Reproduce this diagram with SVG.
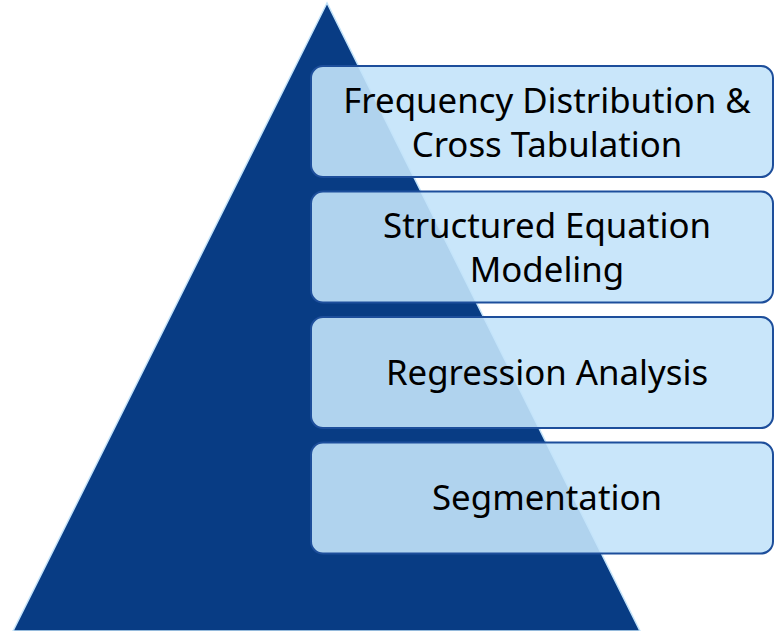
<svg xmlns="http://www.w3.org/2000/svg" width="775" height="631" viewBox="0 0 775 631">
<style>
.box{fill:#c3e3f9;fill-opacity:0.9;stroke:#1d4e9b;stroke-width:2}
.t{font-family:"Noto Sans","Open Sans",sans-serif;font-size:34.8px;fill:#000;text-anchor:middle}
</style>
<rect width="775" height="631" fill="#ffffff"/>
<g id="pyramid">
<polygon points="327,3 13,631 640,631" fill="#083c84" stroke="#c3e3f9" stroke-width="1.5"/>
</g>
<g id="connectors"></g>
<g id="n1">
<rect class="box" x="311" y="66" width="462" height="111" rx="12"/>
<text class="t" x="547" y="113">Frequency Distribution &amp;</text>
<text class="t" x="547" y="157">Cross Tabulation</text>
</g>
<g id="n2">
<rect class="box" x="311" y="191.5" width="462" height="111" rx="12"/>
<text class="t" x="547" y="238">Structured Equation</text>
<text class="t" x="547" y="282">Modeling</text>
</g>
<g id="n3">
<rect class="box" x="311" y="317" width="462" height="111" rx="12"/>
<text class="t" x="547" y="385">Regression Analysis</text>
</g>
<g id="n4">
<rect class="box" x="311" y="442.5" width="462" height="111" rx="12"/>
<text class="t" x="547" y="510">Segmentation</text>
</g>
</svg>
